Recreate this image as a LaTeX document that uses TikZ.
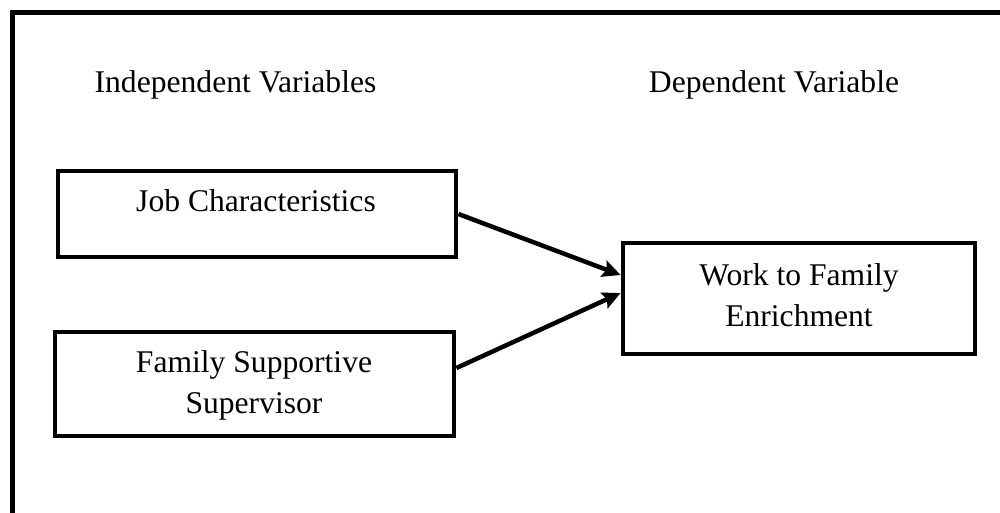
\documentclass[tikz,border=0pt]{standalone}
\usepackage{fontspec}
\setmainfont{Liberation Serif}
\usetikzlibrary{arrows.meta}
\begin{document}
\begin{tikzpicture}[x=1pt,y=-1pt,
  box/.style={draw, line width=4.8pt, minimum width=#1, inner sep=0pt},
  lbl/.style={anchor=base, inner sep=0pt, font=\fontsize{31.6}{41.7}\selectfont},
  conn/.style={line width=4.5pt, -{Stealth[length=18pt,width=17pt,inset=3pt]}}]
\useasboundingbox (0,0) rectangle (1000,512);
\clip (0,0) rectangle (1000,512);
\fill[white] (0,0) rectangle (1000,512);
% outer frame (extends beyond the visible area)
\draw[line width=5pt] (12.5,540) -- (12.5,12.5) -- (1030,12.5);
% headings
\node[lbl] (indep) at (235.5,92) {Independent Variables};
\node[lbl] (dep) at (774,92.5) {Dependent Variable};
% boxes
\node[box=398pt, minimum height=86pt] (job) at (257,214) {};
\node[box=399pt, minimum height=104pt] (fss) at (254.5,384) {};
\node[box=352pt, minimum height=111pt] (wfe) at (799,298.5) {};
% box texts
\node[lbl] (jobtxt) at (256,211.5) {Job Characteristics};
\node[lbl] (fsstxta) at (254,372.7) {Family Supportive};
\node[lbl] (fsstxtb) at (254,413.3) {Supervisor};
\node[lbl] (wfetxta) at (799,285) {Work to Family};
\node[lbl] (wfetxtb) at (799,326.7) {Enrichment};
% connectors
\draw[conn] (job.east) -- ([yshift=23.5pt]wfe.west);
\draw[conn] ([yshift=16pt]fss.east) -- ([yshift=5.5pt]wfe.west);
\end{tikzpicture}
\end{document}
